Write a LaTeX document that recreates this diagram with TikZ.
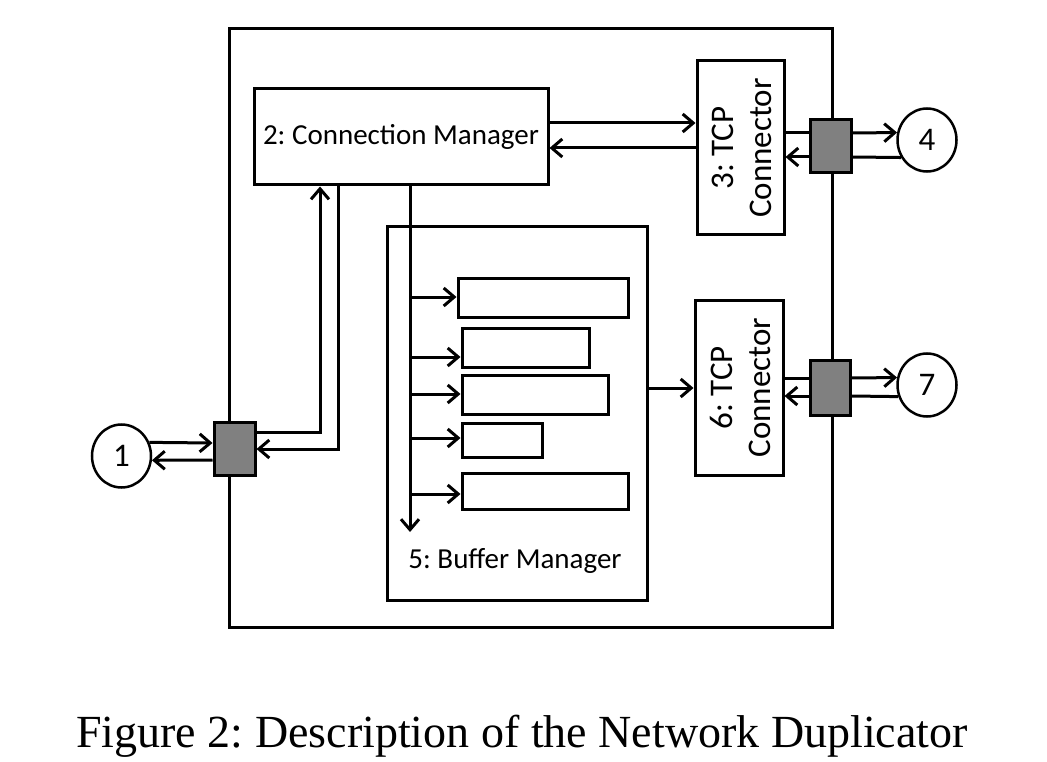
\documentclass[tikz,border=0pt]{standalone}
\usepackage{fontspec}
\setmainfont{Carlito}
\newfontfamily\capfont{Liberation Serif}
\usetikzlibrary{arrows.meta,shapes.geometric}
\frenchspacing
\begin{document}
\begin{tikzpicture}[x=1pt,y=-1pt,
  box/.style={draw,line width=3pt,inner sep=0pt,fill=white},
  port/.style={draw,line width=3pt,inner sep=0pt,fill=black!50,minimum width=41pt,minimum height=53pt},
  endpt/.style={draw,ellipse,line width=2.5pt,inner sep=0pt,minimum width=59pt,minimum height=63pt,font=\fontsize{33}{36}\selectfont},
  ln/.style={line width=3pt},
  arr/.style={line width=3pt,-{Straight Barb[length=10.5pt,width=18pt]}},
  lbl/.style={font=\fontsize{29}{38}\selectfont},
  rlbl/.style={font=\fontsize{33}{38}\selectfont,rotate=90,align=center}
]
\useasboundingbox (0,0) rectangle (1047,762);
% outer box
\node[box,fill=none,minimum width=603pt,minimum height=598pt] (outer) at (530.5,328) {};
% main components
\node[box,minimum width=294pt,minimum height=96pt,lbl] (cm) at (401,137) {2: Connection Manager};
\node[box,minimum width=87pt,minimum height=174pt] (tcp3) at (740.5,148) {};
\node[rlbl] (tcp3t) at ([xshift=1pt]tcp3.center) {3: TCP\\Connector};
\node[box,minimum width=88pt,minimum height=175pt] (tcp6) at (739,387.5) {};
\node[rlbl] (tcp6t) at ([xshift=1pt]tcp6.center) {6: TCP\\Connector};
\node[box,minimum width=260pt,minimum height=373pt] (bm) at (517,413.5) {};
\node[lbl,anchor=base] (bmt) at (515,568) {5: Buffer Manager};
% buffers
\node[box,minimum width=170pt,minimum height=39pt] (b1) at (543,297.5) {};
\node[box,minimum width=127pt,minimum height=39pt] (b2) at (525.5,347.5) {};
\node[box,minimum width=146pt,minimum height=39pt] (b3) at (535,394.5) {};
\node[box,minimum width=80pt,minimum height=34pt] (b4) at (502,440) {};
\node[box,minimum width=166pt,minimum height=36pt] (b5) at (545,491) {};
% ports
\node[port] (p1) at (234.5,448.5) {};
\node[port] (p3) at (830.5,146.5) {};
\node[port,minimum width=40pt,minimum height=55pt] (p6) at (830,387.5) {};
% end points
\node[endpt] (c1) at (121.5,456) {1};
\node[endpt] (c4) at (927,140) {4};
\node[endpt] (c7) at (927,385) {7};
% connection manager <-> TCP 3
\draw[arr] (cm.east |- 0,123) -- (tcp3.west |- 0,123);
\draw[arr] (tcp3.west |- 0,148) -- (cm.east |- 0,148);
% TCP 3 <-> port <-> 4
\draw[ln] (tcp3.east |- 0,133) -- (p3.west |- 0,133);
\draw[arr] (p3.east |- 0,133) -- (c4.166);
\draw[ln] (c4.214) -- (p3.east |- 0,157);
\draw[arr] (p3.west |- 0,157) -- (tcp3.east |- 0,157);
% 1 <-> port
\draw[arr] (c1.26) -- (p1.west |- 0,443);
\draw[arr] (p1.west |- 0,460) -- (c1.-8);
% port <-> connection manager
\draw[arr] (p1.east |- 0,432) -| (cm.south -| 320,0);
\draw[arr] (cm.south -| 338,0) |- (p1.east |- 0,449);
% connection manager -> buffer manager
\coordinate (spine) at (cm.south -| 410,0);
\coordinate (spineend) at (410,532);
\draw[arr] (spine) -- (spineend);
\draw[arr] (spine |- 0,297) -- (b1.west |- 0,297);
\draw[arr] (spine |- 0,357) -- (b2.west |- 0,357);
\draw[arr] (spine |- 0,394) -- (b3.west |- 0,394);
\draw[arr] (spine |- 0,438) -- (b4.west |- 0,438);
\draw[arr] (spine |- 0,494) -- (b5.west |- 0,494);
% buffer manager -> TCP 6
\draw[arr] (bm.east |- 0,388) -- (tcp6.west |- 0,388);
% TCP 6 <-> port <-> 7
\draw[ln] (tcp6.east |- 0,378) -- (p6.west |- 0,378);
\draw[arr] (p6.east |- 0,378) -- (c7.166);
\draw[ln] (c7.202) -- (p6.east |- 0,396);
\draw[arr] (p6.west |- 0,396) -- (tcp6.east |- 0,396);
% caption
\node[anchor=base,font=\capfont\fontsize{46}{54}\selectfont,inner sep=0pt] (cap) at (522,747) {Figure 2: Description of the Network Duplicator};
\end{tikzpicture}
\end{document}
